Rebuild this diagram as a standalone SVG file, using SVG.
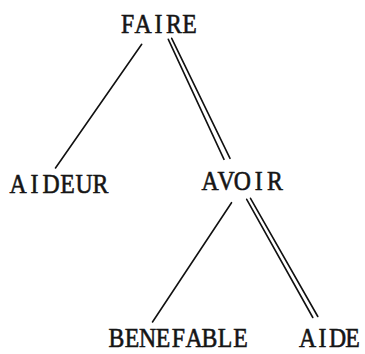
<svg xmlns="http://www.w3.org/2000/svg" width="365" height="354" viewBox="0 0 365 354">
<style>
.lbl{font-family:"Liberation Serif","Times New Roman",serif;font-size:27px;fill:#151515;stroke:#151515;stroke-width:0.6;text-anchor:middle}
.ln{stroke:#111;stroke-width:1.6;fill:none;stroke-linecap:round}
</style>
<rect width="365" height="354" fill="#fff"/>
<g id="connectors">
<line class="ln" x1="141.7" y1="44.3" x2="55.5" y2="168"/>
<line class="ln" x1="168.3" y1="39.3" x2="224" y2="159.3"/>
<line class="ln" x1="171.7" y1="38.3" x2="230" y2="158.3"/>
<line class="ln" x1="231.5" y1="202.7" x2="152.5" y2="322"/>
<line class="ln" x1="246.7" y1="199.3" x2="312.8" y2="317.5"/>
<line class="ln" x1="250.5" y1="198.3" x2="317.8" y2="316.5"/>
</g>
<g id="node-faire"><text class="lbl" transform="scale(0.88 1)" x="144.9 162.5 180.1 197.7 215.3" y="33">FAIRE</text></g>
<g id="node-aideur"><text class="lbl" transform="scale(0.88 1)" x="20.45 39.2 57.95 76.7 95.45 114.2" y="193">AIDEUR</text></g>
<g id="node-avoir"><text class="lbl" transform="scale(0.88 1)" x="238.6 257 275.5 293.9 312.3" y="190">AVOIR</text></g>
<g id="node-benefable"><text class="lbl" transform="scale(0.88 1)" x="132.4 150 167.6 185.2 202.8 220.5 238.1 255.7 273.3" y="347">BENEFABLE</text></g>
<g id="node-aide"><text class="lbl" transform="scale(0.88 1)" x="349.4 366.5 383.5 400.6" y="347">AIDE</text></g>
</svg>
